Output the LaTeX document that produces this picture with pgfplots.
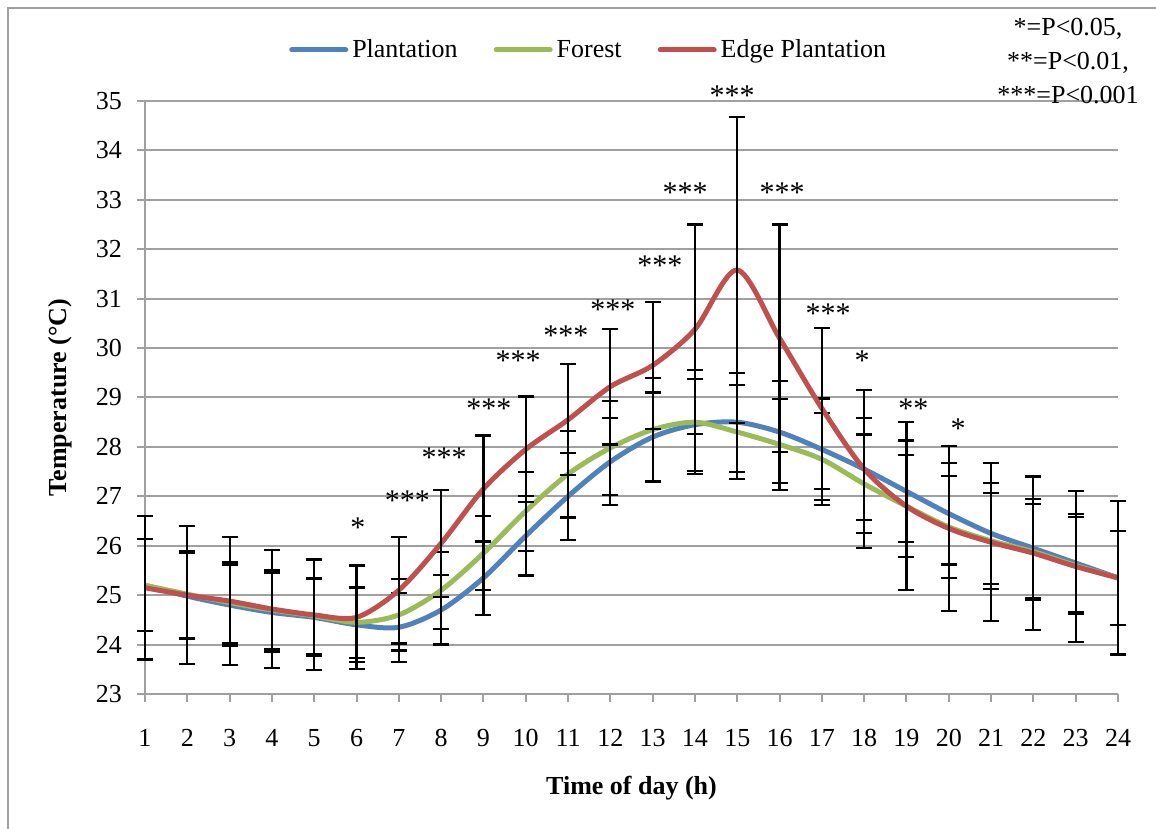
\documentclass[border=0pt]{standalone}
\usepackage{pgfplots}
\pgfplotsset{compat=1.18}
\usepackage{pgfplotstable}
\usepackage{fontspec}
\setmainfont{Liberation Serif}
\definecolor{cP}{HTML}{4F81BD}
\definecolor{cF}{HTML}{9BBB59}
\definecolor{cE}{HTML}{C0504D}
\definecolor{gridg}{RGB}{160,160,160}

\pgfplotstableread{
x y e
1 25.20 0.93
2 24.98 0.87
3 24.80 0.82
4 24.65 0.80
5 24.55 0.77
6 24.40 0.75
7 24.35 0.70
8 24.70 0.70
9 25.35 0.75
10 26.20 0.80
11 27.00 0.88
12 27.70 0.88
13 28.20 0.90
14 28.45 0.93
15 28.50 1.00
16 28.30 1.03
17 27.95 1.03
18 27.55 1.03
19 27.10 1.03
20 26.65 1.03
21 26.25 1.02
22 25.95 1.00
23 25.65 1.00
24 25.35 0.95
}\plantation

\pgfplotstableread{
x y e
1 25.20 0.93
2 25.02 0.88
3 24.85 0.82
4 24.70 0.80
5 24.58 0.77
6 24.45 0.72
7 24.60 0.72
8 25.10 0.78
9 25.85 0.75
10 26.70 0.80
11 27.45 0.88
12 27.98 0.95
13 28.35 1.05
14 28.50 1.05
15 28.30 0.95
16 28.05 0.92
17 27.75 0.93
18 27.25 1.00
19 26.80 1.03
20 26.38 1.03
21 26.10 0.97
22 25.88 0.97
23 25.60 0.98
24 25.35 0.95
}\forest

\pgfplotstableread{
x y e
1 25.15 1.45
2 25.00 1.40
3 24.88 1.30
4 24.72 1.20
5 24.60 1.12
6 24.55 1.05
7 25.10 1.08
8 26.05 1.08
9 27.15 1.08
10 27.95 1.07
11 28.55 1.12
12 29.22 1.17
13 29.65 1.28
14 30.38 2.12
15 31.58 3.10
16 30.20 2.30
17 28.78 1.63
18 27.55 1.60
19 26.80 1.70
20 26.35 1.67
21 26.07 1.60
22 25.85 1.55
23 25.58 1.52
24 25.35 1.55
}\edge

\begin{document}
\begin{tikzpicture}[font=\fontsize{13}{15.6}\selectfont]
\useasboundingbox (-72.5pt,-67.5pt) rectangle (505.5pt,347pt);
\draw[gridg, line width=0.8pt] (-68.5pt,-70pt) -- (-68.5pt,343pt) -- (510pt,343pt);
\begin{axis}[
  at={(0pt,0pt)}, anchor=south west,
  scale only axis, width=486.5pt, height=296.5pt,
  xmin=1, xmax=24, ymin=23, ymax=35,
  xtick={1,...,24}, ytick={23,...,35},
  axis x line*=bottom, axis y line*=left,
  axis line style={gridg, line width=1pt},
  every tick/.style={gridg, line width=1pt},
  tick align=outside, major tick length=4pt,
  ymajorgrids, grid style={gridg, line width=1pt},
  /pgf/number format/assume math mode=true,
  xticklabel style={yshift=-10pt},
  yticklabel style={xshift=-4pt},
  ylabel={\textbf{Temperature (°C)}},
  xlabel={\textbf{Time of day (h)}},
  ylabel style={at={(axis description cs:-0.0874,0.5)}, anchor=center},
  xlabel style={at={(axis description cs:0.5,-0.1585)}, anchor=center},
  clip=false,
  legend columns=3,
  legend style={at={(axis description cs:0.457,1.086)}, anchor=center, draw=none, fill=none,
    /tikz/every even column/.append style={column sep=16pt}},
  legend image code/.code={\draw[#1, line width=2.5pt, line cap=round] (0pt,0pt) -- (27pt,0pt);},
  error bars/y dir=both, error bars/y explicit,
  error bars/error bar style={black, line width=1.1pt},
  error bars/error mark options={rotate=90, black, mark size=4pt, line width=1.1pt},
]
\addplot[cP, line width=2.5pt, smooth, tension=0.5, mark=none] table[x=x, y=y, y error=e] {\plantation};
\addlegendentry{Plantation}
\addplot[cF, line width=2.5pt, smooth, tension=0.5, mark=none] table[x=x, y=y, y error=e] {\forest};
\addlegendentry{Forest}
\addplot[cE, line width=2.5pt, smooth, tension=0.5, mark=none] table[x=x, y=y, y error=e] {\edge};
\addlegendentry{Edge Plantation}

\begin{scope}[every node/.style={anchor=center, yshift=-3pt, inner sep=0pt, font=\fontsize{15}{18}\selectfont}]
\node at (axis cs:6.03,26.48) {*};
\node at (axis cs:7.2,27.03) {***};
\node at (axis cs:8.07,27.9) {***};
\node at (axis cs:9.13,28.89) {***};
\node at (axis cs:9.82,29.86) {***};
\node at (axis cs:10.95,30.37) {***};
\node at (axis cs:12.06,30.89) {***};
\node at (axis cs:13.17,31.78) {***};
\node at (axis cs:13.77,33.26) {***};
\node at (axis cs:14.88,35.22) {***};
\node at (axis cs:16.06,33.26) {***};
\node at (axis cs:17.15,30.81) {***};
\node at (axis cs:17.95,29.86) {*};
\node at (axis cs:19.16,28.9) {**};
\node at (axis cs:20.22,28.5) {*};
\end{scope}
\node[align=center, anchor=center, inner sep=0pt, font=\fontsize{13}{17}\selectfont] at (axis cs:22.82,35.81) {*=P<0.05,\\**=P<0.01,\\***=P<0.001};
\end{axis}
\end{tikzpicture}
\end{document}
